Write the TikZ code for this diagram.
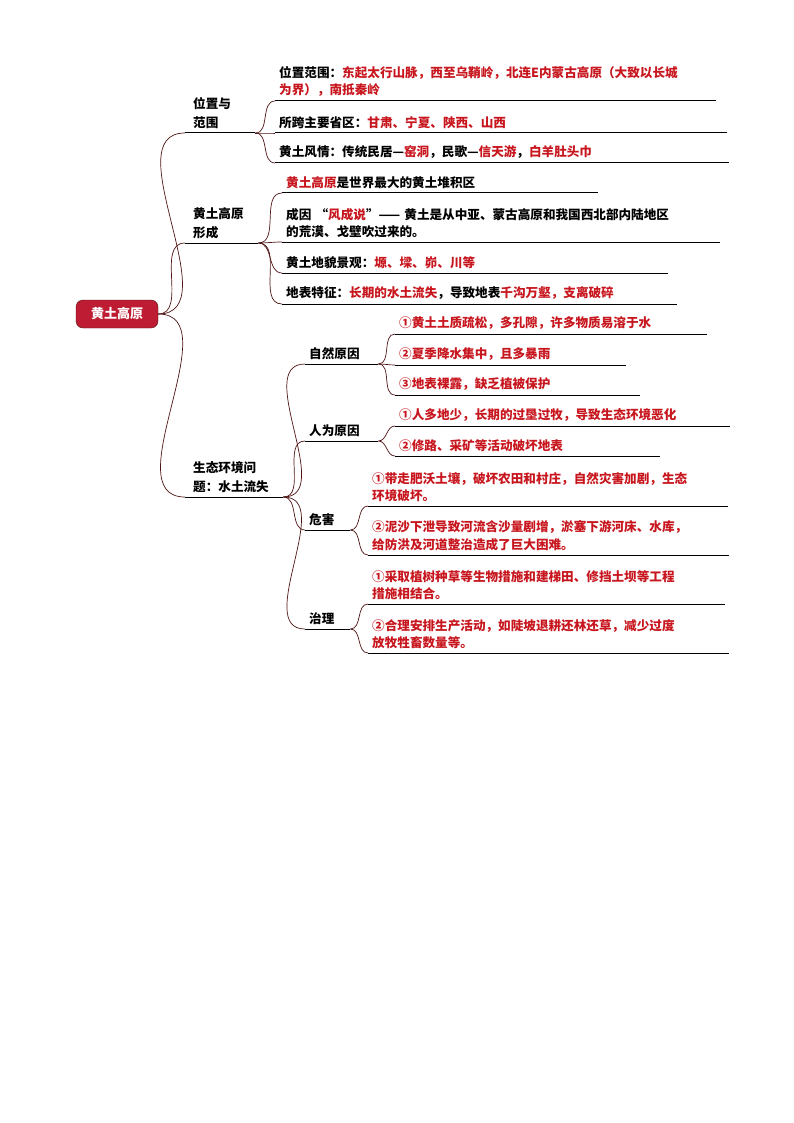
\documentclass[tikz,border=0pt]{standalone}
\usepackage{fontspec}
\setmainfont{Noto Sans CJK SC}
\definecolor{hred}{RGB}{200,22,30}
\definecolor{rootred}{RGB}{190,28,50}
\definecolor{brn}{RGB}{80,20,20}
\newcommand\rt[1]{\textcolor{hred}{#1}}
\tikzset{
 lf/.style={anchor=south west, align=left, inner xsep=4pt, inner ysep=4pt, font=\bfseries\fontsize{12.6}{17.5}\selectfont, text width=#1},
 top/.style={anchor=south west, align=left, inner xsep=8pt, inner ysep=4pt, font=\bfseries\fontsize{12.6}{19}\selectfont, text width=#1},
 ul/.style={draw=black, line width=1pt},
 br/.style={draw=brn, line width=0.7pt},
}
\begin{document}
\begin{tikzpicture}[x=1pt,y=-1pt]
\fill[white] (0,0) rectangle (794,1123);
\node[fill=rootred, draw=brn, rounded corners=7pt, minimum width=82pt, minimum height=28pt, text=white, font=\bfseries\fontsize{13}{15}\selectfont] (root) at (117,314) {黄土高原};
% level 1
\node[top=54pt] (a) at (185,133) {位置与\\范围};
\node[top=57pt] (b) at (185,243) {黄土高原\\形成};
\node[top=82pt] (c) at (185,497) {生态环境问\\题：水土流失};
% a leaves
\node[lf=433pt] (a1) at (275,101) {位置范围：\rt{东起太行山脉，西至乌鞘岭，北连E内蒙古高原（大致以长城}\\\rt{为界），南抵秦岭}};
\node[lf=444pt] (a2) at (275,133) {所跨主要省区：\rt{甘肃、宁夏、陕西、山西}};
\node[lf=446pt] (a3) at (275,163) {黄土风情：传统民居—\rt{窑洞}，民歌—\rt{信天游}，\rt{白羊肚头巾}};
% b leaves
\node[lf=308pt] (b1) at (282,193) {\rt{黄土高原}是世界最大的黄土堆积区};
\node[lf=430pt] (b2) at (282,242) {成因 “\rt{风成说}”—— 黄土是从中亚、蒙古高原和我国西北部内陆地区\\的荒漠、戈壁吹过来的。};
\node[lf=378pt] (b3) at (282,273) {黄土地貌景观：\rt{塬、墚、峁、川等}};
\node[lf=387pt] (b4) at (282,304) {地表特征：\rt{长期的水土流失}，导致地表\rt{千沟万壑，支离破碎}};
% c sub
\node[lf=65pt] (c1) at (305,364) {自然原因};
\node[lf=65pt] (c2) at (305,441) {人为原因};
\node[lf=37pt] (c3) at (305,530) {危害};
\node[lf=37pt] (c4) at (305,629) {治理};
\node[lf=304pt] (c11) at (395,334) {\rt{①黄土土质疏松，多孔隙，许多物质易溶于水}};
\node[lf=223pt] (c12) at (395,365) {\rt{②夏季降水集中，且多暴雨}};
\node[lf=237pt] (c13) at (395,395) {\rt{③地表裸露，缺乏植被保护}};
\node[lf=327pt] (c21) at (395,426) {\rt{①人多地少，长期的过垦过牧，导致生态环境恶化}};
\node[lf=257pt] (c22) at (395,456) {\rt{②修路、采矿等活动破坏地表}};
\node[lf=352pt] (c31) at (368,506) {\rt{①带走肥沃土壤，破坏农田和村庄，自然灾害加剧，生态}\\\rt{环境破坏。}};
\node[lf=353pt] (c32) at (368,555) {\rt{②泥沙下泄导致河流含沙量剧增，淤塞下游河床、水库，}\\\rt{给防洪及河道整治造成了巨大困难。}};
\node[lf=349pt] (c41) at (368,604) {\rt{①采取植树种草等生物措施和建梯田、修挡土坝等工程}\\\rt{措施相结合。}};
\node[lf=353pt] (c42) at (368,653) {\rt{②合理安排生产活动，如陡坡退耕还林还草，减少过度}\\\rt{放牧牲畜数量等。}};
% underlines
\foreach \n in {a,b,c,a1,a2,a3,b1,b2,b3,b4,c1,c2,c3,c4,c11,c12,c13,c21,c22,c31,c32,c41,c42}
  \draw[ul] (\n.south west) -- (\n.south east);
% connectors
\foreach \n in {a,b,c} \draw[br] (root.east) to[out=0,in=180] (\n.south west);
\foreach \n in {a1,a2,a3} \draw[br] (a.south east) to[out=0,in=180] (\n.south west);
\foreach \n in {b1,b2,b3,b4} \draw[br] (b.south east) to[out=0,in=180] (\n.south west);
\foreach \n in {c1,c2,c3,c4} \draw[br] (c.south east) to[out=0,in=180] (\n.south west);
\foreach \n in {c11,c12,c13} \draw[br] (c1.south east) to[out=0,in=180] (\n.south west);
\foreach \n in {c21,c22} \draw[br] (c2.south east) to[out=0,in=180] (\n.south west);
\foreach \n in {c31,c32} \draw[br] (c3.south east) to[out=0,in=180] (\n.south west);
\foreach \n in {c41,c42} \draw[br] (c4.south east) to[out=0,in=180] (\n.south west);
\end{tikzpicture}
\end{document}
